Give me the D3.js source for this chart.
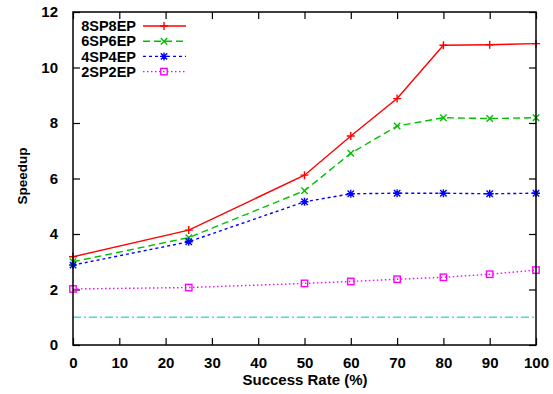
<!DOCTYPE html>
<html>
<head>
<meta charset="utf-8">
<script src="https://cdn.jsdelivr.net/npm/d3@7"></script>
<style>
  body { margin: 0; background: #fff; }
  svg text { font-family: "Liberation Sans", Arial, sans-serif; font-weight: bold; }
</style>
</head>
<body>
<svg id="chart" width="553" height="394"></svg>
<script>
const successRates = [0, 25, 50, 60, 70, 80, 90, 100];
const sp8 = [3.18, 4.14, 6.12, 7.53, 8.88, 10.80, 10.82, 10.86];
const sp6 = [3.00, 3.87, 5.56, 6.91, 7.89, 8.19, 8.16, 8.19];
const sp4 = [2.88, 3.72, 5.16, 5.45, 5.47, 5.47, 5.45, 5.47];
const sp2 = [2.02, 2.07, 2.22, 2.29, 2.37, 2.44, 2.55, 2.70];
const baseline = 1.0;
const xTicks = [0, 10, 20, 30, 40, 50, 60, 70, 80, 90, 100];
const yTicks = [0, 2, 4, 6, 8, 10, 12];

const series = [
  { name: "8SP8EP", values: sp8, color: "#ff0000", dash: null, marker: "plus" },
  { name: "6SP6EP", values: sp6, color: "#00c000", dash: "7,4", marker: "cross" },
  { name: "4SP4EP", values: sp4, color: "#0000ff", dash: "3,3", marker: "star" },
  { name: "2SP2EP", values: sp2, color: "#ff00ff", dash: "1.5,2.5", marker: "square" },
];

const margin = { left: 73, right: 17, top: 12, bottom: 49 };
const W = 553, H = 394;
const innerW = W - margin.left - margin.right;
const innerH = H - margin.top - margin.bottom;

const svg = d3.select("#chart");
const g = svg.append("g").attr("transform", `translate(${margin.left},${margin.top})`);

const x = d3.scaleLinear().domain([0, 100]).range([0, innerW]);
const y = d3.scaleLinear().domain([0, 12]).range([innerH, 0]);

// ticks, gnuplot style: inward and mirrored
const tickLen = 7;
g.append("g").attr("transform", `translate(0,${innerH})`)
  .call(d3.axisBottom(x).tickValues(xTicks).tickSize(-tickLen).tickPadding(tickLen + 5))
  .call(a => a.select(".domain").remove())
  .call(a => a.selectAll("text").attr("font-size", "15px").attr("fill", "#000"));
g.append("g")
  .call(d3.axisTop(x).tickValues(xTicks).tickSize(-tickLen).tickFormat(""))
  .call(a => a.select(".domain").remove());
g.append("g")
  .call(d3.axisLeft(y).tickValues(yTicks).tickSize(-tickLen).tickPadding(tickLen + 8))
  .call(a => a.select(".domain").remove())
  .call(a => a.selectAll("text").attr("font-size", "15px").attr("fill", "#000"));
g.append("g").attr("transform", `translate(${innerW},0)`)
  .call(d3.axisRight(y).tickValues(yTicks).tickSize(-tickLen).tickFormat(""))
  .call(a => a.select(".domain").remove());
g.selectAll(".tick line").attr("stroke", "#000").attr("stroke-width", 1.2);

// baseline
g.append("line")
  .attr("x1", x(0)).attr("x2", x(100))
  .attr("y1", y(baseline)).attr("y2", y(baseline))
  .attr("stroke", "#40e0e0").attr("stroke-width", 1.5)
  .attr("stroke-dasharray", "8,3,2,3");

function drawMarker(sel, type, color) {
  const s = 4;
  if (type === "plus") {
    sel.append("path").attr("d", `M${-s},0H${s}M0,${-s}V${s}`);
  } else if (type === "cross") {
    sel.append("path").attr("d", `M${-s*0.8},${-s*0.8}L${s*0.8},${s*0.8}M${-s*0.8},${s*0.8}L${s*0.8},${-s*0.8}`);
  } else if (type === "star") {
    sel.append("path").attr("d", `M${-s},0H${s}M0,${-s}V${s}M${-s*0.8},${-s*0.8}L${s*0.8},${s*0.8}M${-s*0.8},${s*0.8}L${s*0.8},${-s*0.8}`);
  } else if (type === "square") {
    sel.append("rect").attr("x", -3.2).attr("y", -3.2).attr("width", 6.4).attr("height", 6.4).attr("fill", "none");
  }
  sel.selectAll("path,rect").attr("stroke", color).attr("stroke-width", 1.4).attr("fill", "none");
}

const line = d3.line().x((d, i) => x(successRates[i])).y(d => y(d));

for (const s of series) {
  g.append("path")
    .datum(s.values)
    .attr("fill", "none")
    .attr("stroke", s.color)
    .attr("stroke-width", 1.4)
    .attr("stroke-dasharray", s.dash)
    .attr("d", line);
  s.values.forEach((v, i) => {
    const mg = g.append("g").attr("transform", `translate(${x(successRates[i])},${y(v)})`);
    drawMarker(mg, s.marker, s.color);
  });
}

// legend
const legend = g.append("g");
series.forEach((s, i) => {
  const ly = 14 + i * 15.2;
  legend.append("text")
    .attr("x", 63).attr("y", ly).attr("dy", "0.36em")
    .attr("text-anchor", "end").attr("font-size", "14.5px").attr("fill", "#000")
    .text(s.name);
  legend.append("line")
    .attr("x1", 70).attr("x2", 113).attr("y1", ly).attr("y2", ly)
    .attr("stroke", s.color).attr("stroke-width", 1.4)
    .attr("stroke-dasharray", s.dash);
  const mg = legend.append("g").attr("transform", `translate(91,${ly})`);
  drawMarker(mg, s.marker, s.color);
});

// frame
g.append("rect")
  .attr("width", innerW).attr("height", innerH)
  .attr("fill", "none").attr("stroke", "#000").attr("stroke-width", 1.5);

// axis titles
svg.append("text")
  .attr("x", 305).attr("y", 385)
  .attr("text-anchor", "middle").attr("font-size", "15px")
  .text("Success Rate (%)");
svg.append("text")
  .attr("transform", `translate(27,176) rotate(-90)`)
  .attr("text-anchor", "middle").attr("font-size", "13.5px")
  .text("Speedup");
</script>
</body>
</html>
